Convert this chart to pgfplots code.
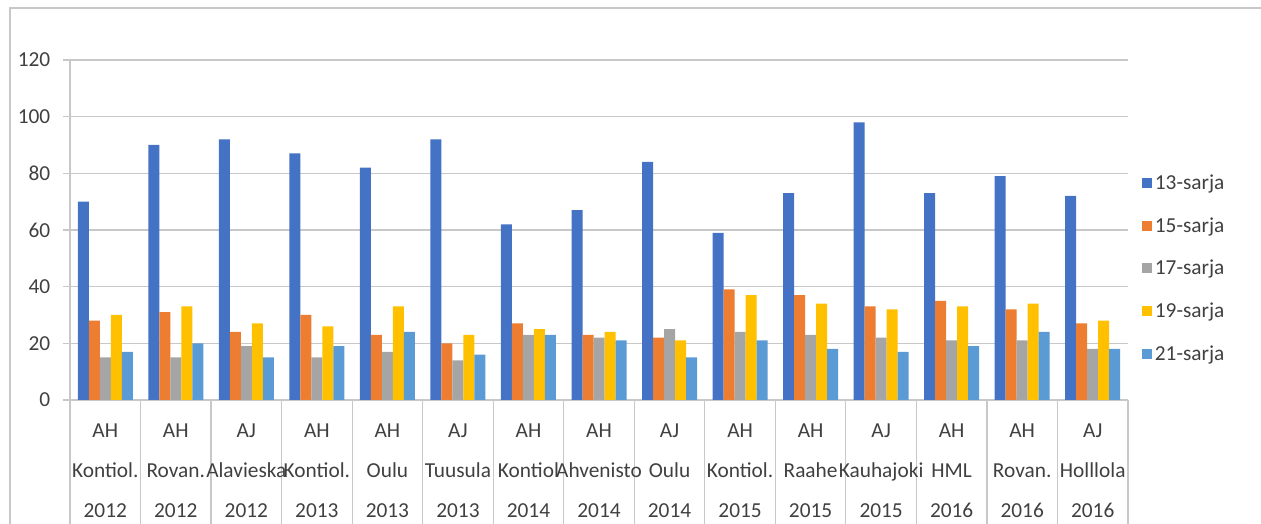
\documentclass[border=0pt]{standalone}
\usepackage{pgfplots}
\pgfplotsset{compat=1.18}
\usepackage{pgfplotstable}
\usepackage{fontspec}
\setmainfont{Carlito}
\definecolor{cA}{HTML}{4472C4}
\definecolor{cB}{HTML}{ED7D31}
\definecolor{cC}{HTML}{A5A5A5}
\definecolor{cD}{HTML}{FFC000}
\definecolor{cE}{HTML}{5B9BD5}
\definecolor{gridc}{HTML}{C8C8C8}
\definecolor{txt}{HTML}{404040}
\pgfplotstableread{
x s13 s15 s17 s19 s21
0 70 28 15 30 17
1 90 31 15 33 20
2 92 24 19 27 15
3 87 30 15 26 19
4 82 23 17 33 24
5 92 20 14 23 16
6 62 27 23 25 23
7 67 23 22 24 21
8 84 22 25 21 15
9 59 39 24 37 21
10 73 37 23 34 18
11 98 33 22 32 17
12 73 35 21 33 19
13 79 32 21 34 24
14 72 27 18 28 18
}\datatable
\begin{document}
\begin{tikzpicture}
\useasboundingbox (0,0) rectangle (945.75pt,393pt);
\draw[gridc, line width=1pt] (7.5pt,0) -- (7.5pt,387pt) -- (945.75pt,387pt);
\begin{axis}[
  at={(52.5pt,93pt)}, anchor=south west,
  scale only axis, width=793.5pt, height=255pt,
  ybar=0pt, bar width=8.25pt,
  xmin=-0.5, xmax=14.5, ymin=0, ymax=120,
  ytick={0,20,...,120},
  xtick={0,...,14},
  xticklabels={
    {AH\\Kontiol.\\2012},{AH\\Rovan.\\2012},{AJ\\Alavieska\\2012},
    {AH\\Kontiol.\\2013},{AH\\Oulu\\2013},{AJ\\Tuusula\\2013},
    {AH\\Kontiol\\2014},{AH\\Ahvenisto\\2014},{AJ\\Oulu\\2014},
    {AH\\Kontiol.\\2015},{AH\\Raahe\\2015},{AJ\\Kauhajoki\\2015},
    {AH\\HML\\2016},{AH\\Rovan.\\2016},{AJ\\Holllola\\2016}},
  minor xtick={-0.5,0.5,...,14.5},
  xtick pos=bottom, ytick pos=left,
  tick align=outside,
  major tick length=5.25pt,
  minor tick length=93pt,
  major x tick style={draw=none},
  minor x tick style={gridc, line width=0.9pt},
  major y tick style={gridc, line width=1pt},
  ymajorgrids, major grid style={gridc, line width=1pt},
  axis line style={draw=none},
  /pgf/number format/assume math mode=true,
  tick label style={font=\fontsize{16}{19}\selectfont, text=txt},
  yticklabel style={xshift=-6pt},
  xticklabel style={align=center, font=\fontsize{16}{30}\selectfont, text=txt, yshift=-9pt},
  legend style={at={(1.0094,0.387)}, anchor=west, draw=none, fill=none,
    font=\fontsize{16}{19}\selectfont, text=txt, row sep=15.5pt,
    legend cell align=left},
  clip=false,
]
\draw[gridc, line width=1pt] (rel axis cs:0,0) -- (rel axis cs:0,1);
\addplot[fill=cA, draw=none, legend image code/.code={\fill[cA] (0pt,-3.75pt) rectangle (7.5pt,3.75pt);}] table[x=x,y=s13] {\datatable};
\addplot[fill=cB, draw=none, legend image code/.code={\fill[cB] (0pt,-3.75pt) rectangle (7.5pt,3.75pt);}] table[x=x,y=s15] {\datatable};
\addplot[fill=cC, draw=none, legend image code/.code={\fill[cC] (0pt,-3.75pt) rectangle (7.5pt,3.75pt);}] table[x=x,y=s17] {\datatable};
\addplot[fill=cD, draw=none, legend image code/.code={\fill[cD] (0pt,-3.75pt) rectangle (7.5pt,3.75pt);}] table[x=x,y=s19] {\datatable};
\addplot[fill=cE, draw=none, legend image code/.code={\fill[cE] (0pt,-3.75pt) rectangle (7.5pt,3.75pt);}] table[x=x,y=s21] {\datatable};
\legend{13-sarja,15-sarja,17-sarja,19-sarja,21-sarja}
\end{axis}
\end{tikzpicture}
\end{document}
